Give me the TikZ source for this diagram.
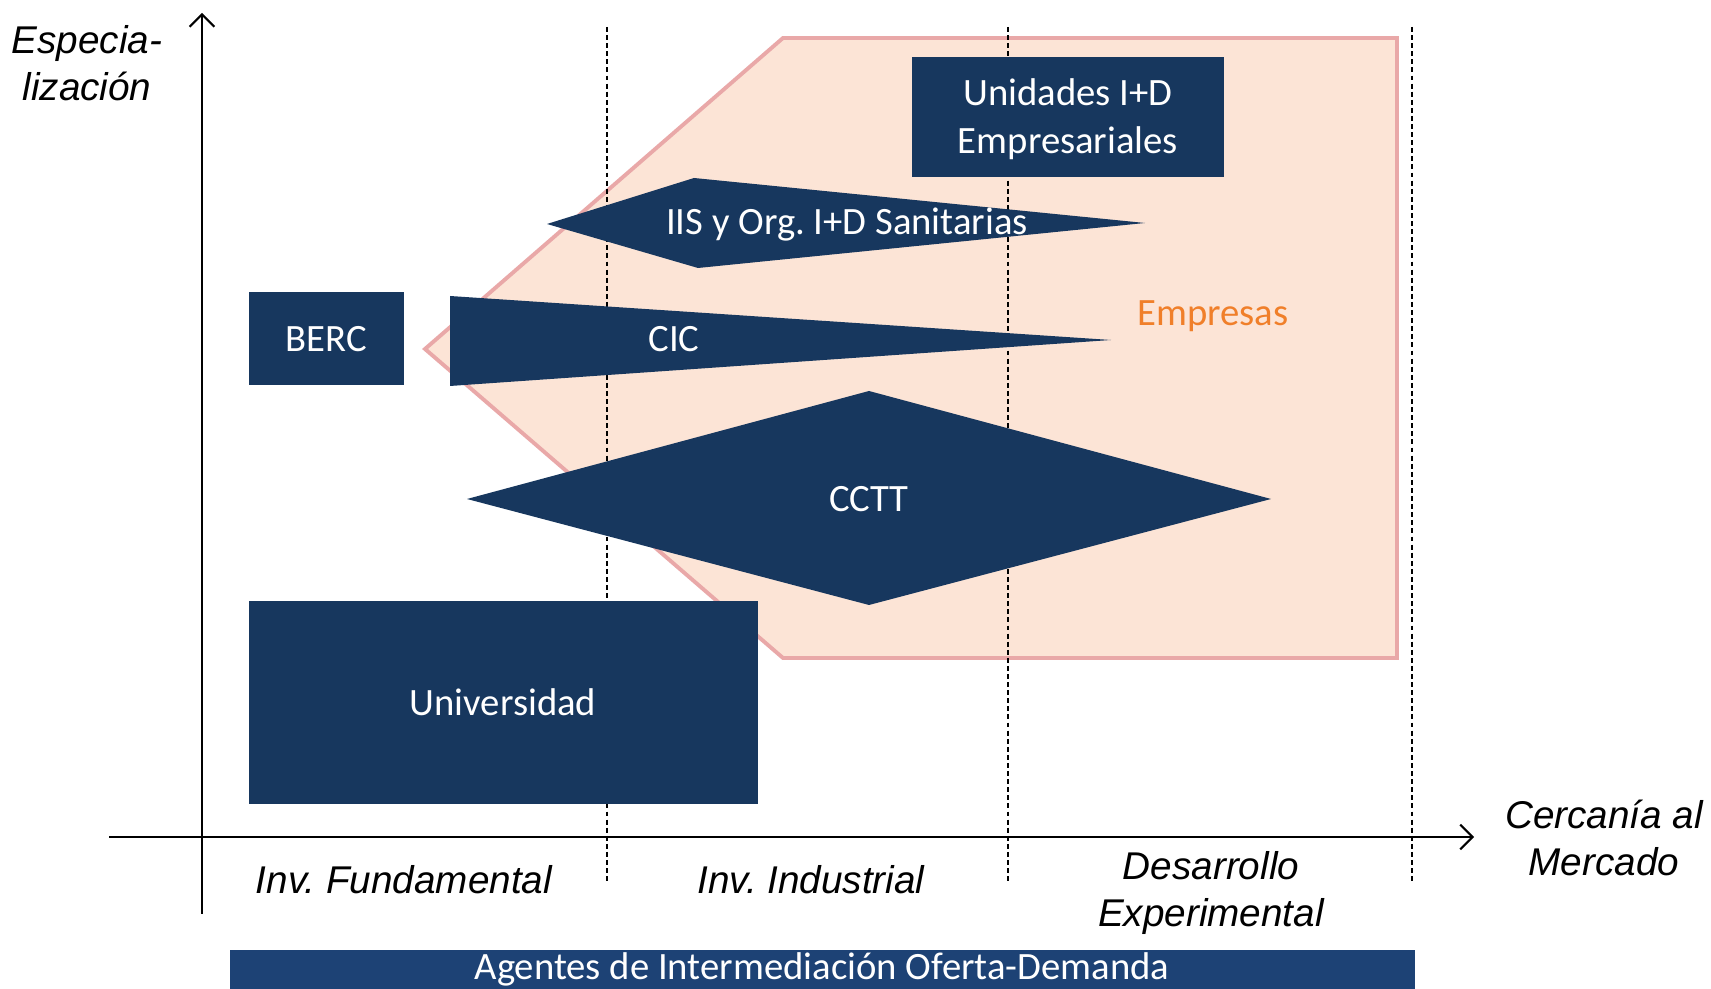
\documentclass[tikz,border=0pt]{standalone}
\usepackage{fontspec}
\setmainfont{Carlito}
\newfontfamily\axfont{Liberation Sans}
\usetikzlibrary{arrows.meta}
\definecolor{navy}{HTML}{17375E}
\definecolor{barblue}{HTML}{1D4275}
\definecolor{peach}{HTML}{FCE4D6}
\definecolor{pinkline}{HTML}{E9A8A8}
\definecolor{orangetxt}{HTML}{F07F2A}
\frenchspacing
\begin{document}
\begin{tikzpicture}[x=0.01cm,y=-0.01cm,
  navyshape/.style={fill=navy,draw=none},
  intext/.style={text=white,font=\fontsize{11}{13.7}\selectfont,align=center,inner sep=0pt},
  axlabel/.style={font=\axfont\itshape\fontsize{11}{13.4}\selectfont,align=center,text=black,inner sep=0pt},
  guide/.style={draw=black,line width=0.4pt,dash pattern=on 1.4pt off 0.9pt},
  axisline/.style={draw=black,line width=0.6pt,-{Straight Barb[length=3.5pt,width=7pt]}}]
\useasboundingbox (0,0) rectangle (1711,989);
\fill[white] (0,0) rectangle (1711,989);

% Empresas region
\path[fill=peach,draw=pinkline,line width=1.1pt,line join=miter]
  (783,38) -- (1397,38) -- (1397,658) -- (783,658) -- (425,349) -- cycle;
\node[text=orangetxt,font=\fontsize{11}{13}\selectfont,inner sep=0pt] (empresas) at (1213,316) {Empresas};

% guide lines (behind the navy shapes)
\coordinate (g1t) at (607,27); \coordinate (g1b) at (607,884);
\coordinate (g2t) at (1008,27); \coordinate (g2b) at (1008,884);
\coordinate (g3t) at (1412,27); \coordinate (g3b) at (1412,884);
\draw[guide] (g1t) -- (g1b);
\draw[guide] (g2t) -- (g2b);
\draw[guide] (g3t) -- (g3b);

% Unidades I+D
\fill[navyshape] (912,57) rectangle (1224,177);
\node[intext] (unid) at (1068,119) {Unidades I+D\\Empresariales};

% IIS
\fill[navyshape] (547,224) -- (694,178) -- (1145,223) -- (698,268) -- cycle;
\node[intext] (iis) at (847,225) {IIS y Org. I+D Sanitarias};

% BERC
\fill[navyshape] (249,292) rectangle (404,385);
\node[intext] (berc) at (326,339) {BERC};

% CIC
\fill[navyshape] (450,296) -- (1111,340) -- (450,386) -- cycle;
\node[intext] (cic) at (674,339) {CIC};

% CCTT
\fill[navyshape] (467,499) -- (869,391) -- (1271,499) -- (869,605) -- cycle;
\node[intext] (cctt) at (869,499) {CCTT};

% Universidad
\fill[navyshape] (249,601) rectangle (758,804);
\node[intext] (univ) at (503,702) {Universidad};

% axes
\coordinate (yb) at (202,914); \coordinate (yt) at (202,13);
\coordinate (xl) at (109,837); \coordinate (xr) at (1474,837);
\draw[axisline] (yb) -- (yt);
\draw[axisline] (xl) -- (xr);

% axis labels
\node[axlabel] (espec) at (87,63) {Especia-\\lización};
\node[axlabel] (cerca) at (1604,838) {Cercanía al\\Mercado};
\node[axlabel] (fund) at (404,880) {Inv. Fundamental};
\node[axlabel] (indus) at (811,880) {Inv. Industrial};
\node[axlabel] (desa) at (1211,893) {Desarrollo\\Experimental};

% bottom bar
\fill[barblue] (230,950) rectangle (1415,989);
\node[intext] (agentes) at (822,969) {Agentes de Intermediación Oferta-Demanda};
\end{tikzpicture}
\end{document}
